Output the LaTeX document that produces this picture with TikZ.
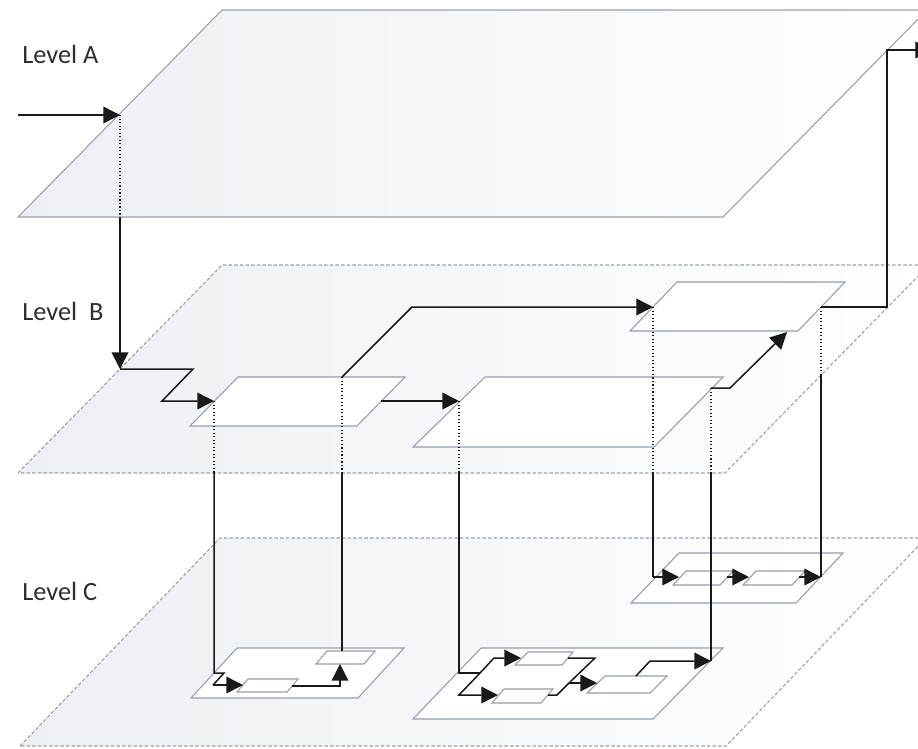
\documentclass[tikz,border=0pt]{standalone}
\usepackage{fontspec}
\setmainfont{Carlito}
\usetikzlibrary{arrows.meta}
\definecolor{planefill}{RGB}{236,239,244}
\definecolor{planeline}{RGB}{158,158,165}
\definecolor{boxline}{RGB}{150,156,172}
\definecolor{wirecol}{RGB}{25,25,25}
\definecolor{labeltext}{RGB}{45,45,45}
\begin{document}
\begin{tikzpicture}[x=0.02cm,y=-0.02cm,
  plane/.style={draw=planeline, line width=0.6pt, left color=planefill, right color=white},
  dplane/.style={plane, dash pattern=on 2pt off 1.2pt},
  box/.style={draw=boxline, line width=0.6pt, fill=white},
  wire/.style={draw=wirecol, line width=0.85pt},
  arr/.style={wire, -{Triangle[length=9.5pt,width=9.5pt]}},
  dots/.style={draw=wirecol, line width=0.7pt, dash pattern=on 0.7pt off 1.3pt},
  lvl/.style={anchor=base west, inner sep=0pt, text=labeltext, font=\fontsize{15}{18}\selectfont}]
\useasboundingbox (0,0) rectangle (918,748);

% planes
\path[plane]  (18,217) -- (222,10) -- (927,10) -- (723,217) -- cycle;
\path[dplane] (18,473) -- (222,265) -- (929,265) -- (725,473) -- cycle;
\path[dplane] (20,746) -- (220,538) -- (926,538) -- (726,746) -- cycle;

% labels
\node[lvl] (lA) at (22,63) {Level A};
\node[lvl] (lB) at (22,320) {Level\ \ B};
\node[lvl] (lC) at (22,600) {Level C};

% level B boxes
\path[box] (190,426) -- (238,377) -- (405,377) -- (357,426) -- cycle;
\path[box] (413,447) -- (485,377) -- (723,377) -- (654,447) -- cycle;
\path[box] (630,331) -- (677,282) -- (845,282) -- (798,331) -- cycle;

% level C groups
\path[box] (191,698) -- (237,648) -- (404,648) -- (358,698) -- cycle;
\path[box] (237,692) -- (248,679) -- (298,679) -- (287,692) -- cycle;
\path[box] (316,664) -- (327,651) -- (375,651) -- (364,664) -- cycle;
\path[box] (413,719) -- (481,648) -- (723,648) -- (653,719) -- cycle;
\path[box] (515,665) -- (528,652) -- (573,652) -- (562,665) -- cycle;
\path[box] (492,703) -- (504,689) -- (553,689) -- (541,703) -- cycle;
\path[box] (587,693) -- (605,676) -- (667,676) -- (650,693) -- cycle;
\path[box] (631,603) -- (679,553) -- (843,553) -- (796,603) -- cycle;
\path[box] (673,585) -- (686,571) -- (733,571) -- (720,585) -- cycle;
\path[box] (743,585) -- (756,571) -- (805,571) -- (792,585) -- cycle;

% coordinates
\coordinate (in0) at (18,115);
\coordinate (a1) at (120,115);
\coordinate (a2) at (120,217);
\coordinate (b0) at (120,369);
\coordinate (b0j1) at (193,369);
\coordinate (b0j2) at (162,401);
\coordinate (b1L) at (214,401);
\coordinate (b1Lb) at (214,473);
\coordinate (c1v) at (214,673);
\coordinate (c1j1) at (224,673);
\coordinate (c1j2) at (213,685);
\coordinate (c1aL) at (243,685);
\coordinate (c1aR) at (292,686);
\coordinate (c1k) at (340,686);
\coordinate (c1bB) at (340,664);
\coordinate (b1T) at (342,377);
\coordinate (b1Tb) at (342,473);
\coordinate (c1bT) at (342,651);
\coordinate (b1u) at (412,307);
\coordinate (b3L) at (653,307);
\coordinate (b1R) at (381,401);
\coordinate (b2L) at (459,401);
\coordinate (b2Lb) at (459,473);
\coordinate (c2v) at (459,673);
\coordinate (c2j) at (480,673);
\coordinate (c2u) at (494,658);
\coordinate (c2aL) at (521,658);
\coordinate (c2d) at (459,695);
\coordinate (c2bL) at (498,695);
\coordinate (c2aR) at (568,658);
\coordinate (c2r1) at (595,658);
\coordinate (c2m) at (569,683);
\coordinate (c2bR) at (548,695);
\coordinate (c2r2) at (557,695);
\coordinate (c2cL) at (597,683);
\coordinate (c2cT) at (636,676);
\coordinate (c2t) at (650,661);
\coordinate (c2out) at (711,661);
\coordinate (b2R) at (711,388);
\coordinate (b2Rb) at (711,473);
\coordinate (b2r) at (730,388);
\coordinate (b3B) at (787,332);
\coordinate (b3Lb) at (653,473);
\coordinate (c3v) at (653,577);
\coordinate (c3aL) at (679,577);
\coordinate (c3aR) at (727,577);
\coordinate (c3bL) at (749,577);
\coordinate (c3bR) at (799,577);
\coordinate (c3out) at (821,577);
\coordinate (b3R) at (821,307);
\coordinate (b3Rb) at (821,375);
\coordinate (outk) at (887,307);
\coordinate (outA) at (887,50);
\coordinate (outE) at (932,50);

% dotted projections
\draw[dots] (a1) -- (a2);
\draw[dots] (b1L) -- (b1Lb);
\draw[dots] (b1T) -- (b1Tb);
\draw[dots] (b2L) -- (b2Lb);
\draw[dots] (b2R) -- (b2Rb);
\draw[dots] (b3L) -- (b3Lb);
\draw[dots] (b3R) -- (b3Rb);

% level A
\draw[arr] (in0) -- (a1);
\draw[arr] (a2) -- (b0);

% level B
\draw[arr] (b0) -- (b0j1) -- (b0j2) -- (b1L);
\draw[arr] (b1T) -- (b1u) -- (b3L);
\draw[arr] (b1R) -- (b2L);
\draw[arr] (b2R) -- (b2r) -- (b3B);
\draw[arr] (b3R) -- (outk) -- (outA) -- (outE);

% B to C
\draw[wire] (b1Lb) -- (c1v) -- (c1j1) -- (c1j2);
\draw[arr] (c1j2) -- (c1aL);
\draw[arr] (c1aR) -- (c1k) -- (c1bB);
\draw[wire] (b1Tb) -- (c1bT);

\draw[wire] (b2Lb) -- (c2v) -- (c2j);
\draw[arr] (c2j) -- (c2u) -- (c2aL);
\draw[arr] (c2j) -- (c2d) -- (c2bL);
\draw[wire] (c2aR) -- (c2r1) -- (c2m);
\draw[wire] (c2bR) -- (c2r2) -- (c2m);
\draw[arr] (c2m) -- (c2cL);
\draw[arr] (c2cT) -- (c2t) -- (c2out);
\draw[wire] (b2Rb) -- (c2out);

\draw[wire] (b3Lb) -- (c3v);
\draw[arr] (c3v) -- (c3aL);
\draw[arr] (c3aR) -- (c3bL);
\draw[arr] (c3bR) -- (c3out);
\draw[wire] (b3Rb) -- (c3out);
\end{tikzpicture}
\end{document}
